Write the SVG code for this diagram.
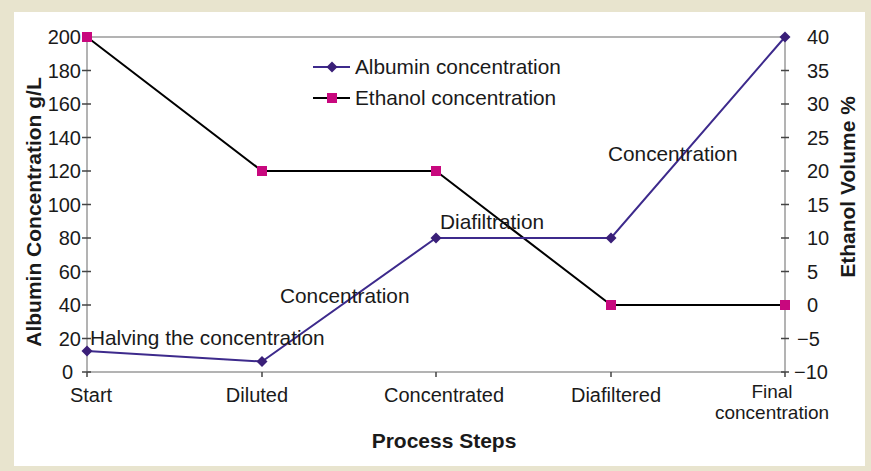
<svg xmlns="http://www.w3.org/2000/svg" width="871" height="471" viewBox="0 0 871 471">
  <defs>
    <style>
      text { font-family: "Liberation Sans", Arial, sans-serif; fill: #1a1a1a; }
      .lbl { font-size: 20px; }
      .ann { font-size: 20.8px; }
      .title { font-size: 21px; font-weight: bold; }
      .axis { stroke: #9a9a9a; stroke-width: 1.5; fill: none; }
      .tick { stroke: #444; stroke-width: 1.5; }
      .alb { stroke: #3d2a8c; stroke-width: 2; fill: none; }
      .eth { stroke: #000; stroke-width: 2; fill: none; }
    </style>
    <path id="dia" d="M0,-5.5 L5.5,0 L0,5.5 L-5.5,0 Z" fill="#3a1f78"/>
    <rect id="sq" x="-5" y="-5" width="10" height="10" fill="#c8087e"/>
  </defs>

  <rect x="0" y="0" width="871" height="471" fill="#e8e4ce"/>
  <rect x="14" y="12" width="851" height="454" fill="#ffffff"/>

  <g id="axes">
    <path class="axis" d="M87,37 H785 M87,372 H785 M87,37 V372 M785,37 V372"/>
    <g class="tick">
      <path d="M82,70.5 H91 M82,104 H91 M82,137.5 H91 M82,171 H91 M82,204.5 H91 M82,238 H91 M82,271.5 H91 M82,305 H91 M82,338.5 H91 M82,372 H91"/>
      <path d="M781,70.5 H789 M781,104 H789 M781,137.5 H789 M781,171 H789 M781,204.5 H789 M781,238 H789 M781,271.5 H789 M781,305 H789 M781,338.5 H789 M781,372 H789"/>
      <path d="M87,372 V377 M262,372 V377 M436,372 V377 M611,372 V377 M785,372 V377"/>
    </g>
    <g class="lbl" text-anchor="end">
      <text x="81" y="44">200</text>
      <text x="81" y="77.5">180</text>
      <text x="81" y="111">160</text>
      <text x="81" y="144.5">140</text>
      <text x="81" y="178">120</text>
      <text x="81" y="211.5">100</text>
      <text x="81" y="245">80</text>
      <text x="81" y="278.5">60</text>
      <text x="81" y="312">40</text>
      <text x="81" y="345.5">20</text>
      <text x="73" y="379">0</text>
    </g>
    <g class="lbl">
      <text x="807" y="44">40</text>
      <text x="807" y="77.5">35</text>
      <text x="807" y="111">30</text>
      <text x="807" y="144.5">25</text>
      <text x="807" y="178">20</text>
      <text x="807" y="211.5">15</text>
      <text x="807" y="245">10</text>
      <text x="807" y="278.5">5</text>
      <text x="807" y="312">0</text>
      <text x="797" y="345.5">−5</text>
      <text x="794" y="379">−10</text>
    </g>
    <g class="lbl" text-anchor="middle">
      <text x="91" y="402">Start</text>
      <text x="257" y="402">Diluted</text>
      <text x="444" y="402">Concentrated</text>
      <text x="616" y="402">Diafiltered</text>
      <text x="772" y="398" font-size="19">Final</text>
      <text x="772" y="419" font-size="19">concentration</text>
    </g>
    <text class="title" x="444" y="448" text-anchor="middle">Process Steps</text>
    <text class="title" transform="translate(41,212) rotate(-90)" text-anchor="middle">Albumin Concentration g/L</text>
    <text class="title" transform="translate(855,187) rotate(-90)" text-anchor="middle">Ethanol Volume %</text>
  </g>

  <g id="connectors">
    <polyline class="eth" points="87,37 262,171 436,171 611,305 785,305"/>
    <polyline class="alb" points="87,351 262,361.5 436,238 611,238 785,37"/>
  </g>

  <g id="ethanol-points">
    <use href="#sq" x="87" y="37"/>
    <use href="#sq" x="262" y="171"/>
    <use href="#sq" x="436" y="171"/>
    <use href="#sq" x="611" y="305"/>
    <use href="#sq" x="785" y="305"/>
  </g>
  <g id="albumin-points">
    <use href="#dia" x="87" y="351"/>
    <use href="#dia" x="262" y="361.5"/>
    <use href="#dia" x="436" y="238"/>
    <use href="#dia" x="611" y="238"/>
    <use href="#dia" x="785" y="37"/>
  </g>

  <g id="annotations" class="ann">
    <text x="90" y="345">Halving the concentration</text>
    <text x="280" y="303">Concentration</text>
    <text x="440" y="229">Diafiltration</text>
    <text x="608" y="161">Concentration</text>
  </g>

  <g id="legend">
    <line class="alb" x1="313" y1="67" x2="350" y2="67"/>
    <use href="#dia" x="332" y="67"/>
    <text class="ann" x="355" y="74">Albumin concentration</text>
    <line class="eth" x1="313" y1="98" x2="350" y2="98"/>
    <use href="#sq" x="332" y="98"/>
    <text class="ann" x="355" y="105">Ethanol concentration</text>
  </g>
</svg>
